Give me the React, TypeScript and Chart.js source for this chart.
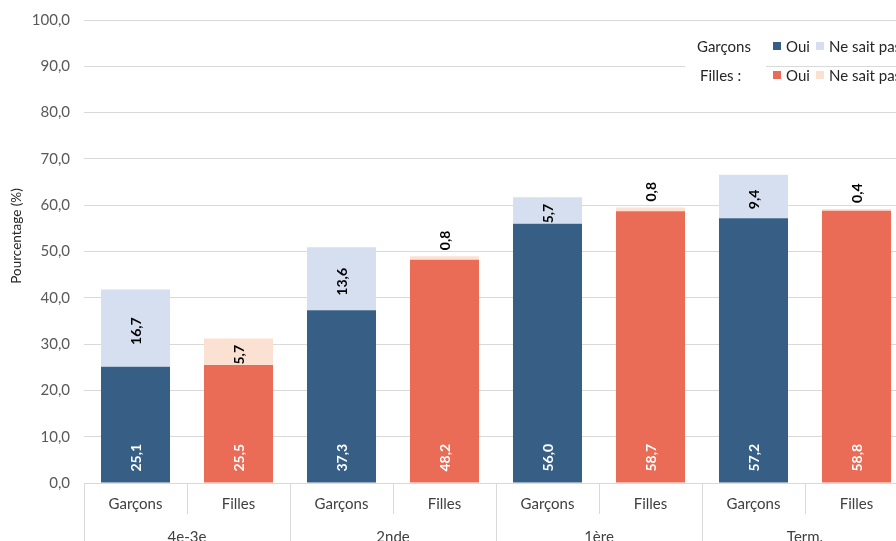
import React, { useEffect, useRef } from "react";
import { Chart, registerables } from "chart.js";

Chart.register(...registerables);

// Niveaux scolaires et sexes (axe des abscisses à deux niveaux)
const levels = ["4e-3e", "2nde", "1ère", "Term."];
const sexes = ["Garçons", "Filles"];

// Pourcentages par niveau
const garconsOui = [25.1, 37.3, 56.0, 57.2];
const garconsNsp = [16.7, 13.6, 5.7, 9.4];
const fillesOui = [25.5, 48.2, 58.7, 58.8];
const fillesNsp = [5.7, 0.8, 0.8, 0.4];

const yTicksMax = 100;
const yStep = 10;
const yTitle = "Pourcentage (%)";

const FONT = "Lato, 'Open Sans', sans-serif";
const C_BLUE = "#375f86";
const C_BLUE_LIGHT = "#d6dff0";
const C_RED = "#ea6b56";
const C_RED_LIGHT = "#fbe1d2";
const GRID = "#d9d9d9";

const fmt = (v: number) => v.toFixed(1).replace(".", ",");

// Chaque niveau occupe deux catégories : Garçons puis Filles
const categories: string[] = levels.flatMap(() => sexes);
const spread = (vals: number[], slot: number) =>
  categories.map((_, i) => (i % 2 === slot ? vals[Math.floor(i / 2)] : null));

// Étiquettes de valeurs tournées dans / au-dessus des barres
const valueLabels = {
  id: "valueLabels",
  afterDatasetsDraw(chart: any) {
    const ctx = chart.ctx;
    ctx.save();
    ctx.font = `bold 14px ${FONT}`;
    ctx.textAlign = "center";
    ctx.textBaseline = "middle";
    chart.data.datasets.forEach((ds: any, di: number) => {
      const meta = chart.getDatasetMeta(di);
      meta.data.forEach((bar: any, j: number) => {
        const v = ds.data[j];
        if (v == null) return;
        const { x, y, base } = bar.getProps(["x", "y", "base"], true);
        const txt = fmt(v);
        const tw = ctx.measureText(txt).width;
        let yc: number;
        if (ds.kind === "oui") {
          ctx.fillStyle = "#ffffff";
          yc = base - 11 - tw / 2;
        } else {
          ctx.fillStyle = "#000000";
          yc = v < 2 ? y - 6 - tw / 2 : (y + base) / 2 + 3;
        }
        ctx.save();
        ctx.translate(x, yc);
        ctx.rotate(-Math.PI / 2);
        ctx.fillText(txt, 0, 1);
        ctx.restore();
      });
    });
    ctx.restore();
  },
};

// Axe des abscisses hiérarchique : sexe puis niveau, et titre de l'axe vertical
const groupedAxis = {
  id: "groupedAxis",
  afterDraw(chart: any) {
    const ctx = chart.ctx;
    const xs = chart.scales.x;
    const bottom = chart.chartArea.bottom;
    const H = chart.height;
    const n = categories.length;
    const step = xs.getPixelForValue(1) - xs.getPixelForValue(0);
    ctx.save();
    ctx.strokeStyle = GRID;
    ctx.lineWidth = 1;
    for (let i = 0; i <= n; i++) {
      const px = Math.round(xs.getPixelForValue(i) - step / 2) + 0.5;
      const full = i % 2 === 0;
      ctx.beginPath();
      ctx.moveTo(px, bottom);
      ctx.lineTo(px, full ? H : bottom + 31);
      ctx.stroke();
    }
    ctx.fillStyle = "#404040";
    ctx.font = `15px ${FONT}`;
    ctx.textAlign = "center";
    ctx.textBaseline = "middle";
    categories.forEach((c, i) => {
      ctx.fillText(c, xs.getPixelForValue(i), bottom + 21);
    });
    levels.forEach((l, g) => {
      const cx = (xs.getPixelForValue(g * 2) + xs.getPixelForValue(g * 2 + 1)) / 2;
      ctx.fillText(l, cx, bottom + 54);
    });

    // titre vertical
    ctx.fillStyle = "#262626";
    ctx.font = `13.5px ${FONT}`;
    ctx.translate(17, 236);
    ctx.rotate(-Math.PI / 2);
    ctx.fillText(yTitle, 0, 0);
    ctx.restore();
  },
};

// Légende à deux lignes (Garçons / Filles)
const twoRowLegend = {
  id: "twoRowLegend",
  afterDraw(chart: any) {
    const ctx = chart.ctx;
    ctx.save();
    ctx.fillStyle = "#ffffff";
    ctx.fillRect(685, 28, 81, 68);
    ctx.font = `15px ${FONT}`;
    ctx.textBaseline = "middle";
    ctx.textAlign = "left";
    const rows = [
      { label: "Garçons", y: 47, lx: 697, c1: C_BLUE, c2: C_BLUE_LIGHT },
      { label: "Filles :", y: 76, lx: 700, c1: C_RED, c2: C_RED_LIGHT },
    ];
    rows.forEach((r) => {
      ctx.fillStyle = "#262626";
      ctx.fillText(r.label, r.lx, r.y);
      ctx.fillStyle = r.c1;
      ctx.fillRect(773, r.y - 5, 8, 8);
      ctx.fillStyle = "#262626";
      ctx.fillText("Oui", 786, r.y);
      ctx.fillStyle = r.c2;
      ctx.fillRect(816, r.y - 5, 8, 8);
      ctx.fillStyle = "#262626";
      ctx.fillText("Ne sait pas", 829, r.y);
    });
    ctx.restore();
  },
};

export default function App() {
  const ref = useRef<HTMLCanvasElement | null>(null);

  useEffect(() => {
    if (!ref.current) return;
    const common = {
      borderWidth: 0,
      categoryPercentage: 1,
      barPercentage: 0.67,
    };
    const chart = new Chart(ref.current, {
      type: "bar",
      data: {
        labels: categories,
        datasets: [
          { label: "Garçons Oui", data: spread(garconsOui, 0), backgroundColor: C_BLUE, kind: "oui", ...common },
          { label: "Filles Oui", data: spread(fillesOui, 1), backgroundColor: C_RED, kind: "oui", ...common },
          { label: "Garçons Ne sait pas", data: spread(garconsNsp, 0), backgroundColor: C_BLUE_LIGHT, kind: "nsp", ...common },
          { label: "Filles Ne sait pas", data: spread(fillesNsp, 1), backgroundColor: C_RED_LIGHT, kind: "nsp", ...common },
        ] as any,
      },
      options: {
        animation: false,
        responsive: false,
        devicePixelRatio: 1,
        layout: { padding: { top: 20, right: 0, left: 0, bottom: 0 } },
        plugins: {
          legend: { display: false },
          tooltip: { enabled: false },
        },
        scales: {
          x: {
            stacked: true,
            grid: { display: false },
            border: { display: false },
            ticks: { display: false },
            afterFit: (s: any) => {
              s.height = 58;
            },
          },
          y: {
            stacked: true,
            min: 0,
            max: yTicksMax,
            ticks: {
              stepSize: yStep,
              padding: 14,
              color: "#595959",
              font: { family: FONT, size: 15 },
              callback: (v: any) => fmt(Number(v)),
            },
            grid: { color: GRID, drawTicks: false, lineWidth: 1 },
            border: { display: false },
            afterFit: (s: any) => {
              s.width = 84;
              s.paddingTop = 0;
              s.paddingBottom = 0;
            },
          },
        },
      },
      plugins: [valueLabels, groupedAxis, twoRowLegend],
    });
    return () => chart.destroy();
  }, []);

  return (
    <div
      style={{
        position: "absolute",
        left: 0,
        top: 0,
        width: 896,
        height: 541,
        overflow: "hidden",
        background: "#ffffff",
      }}
    >
      <canvas ref={ref} width={908} height={541} style={{ display: "block" }} />
    </div>
  );
}
